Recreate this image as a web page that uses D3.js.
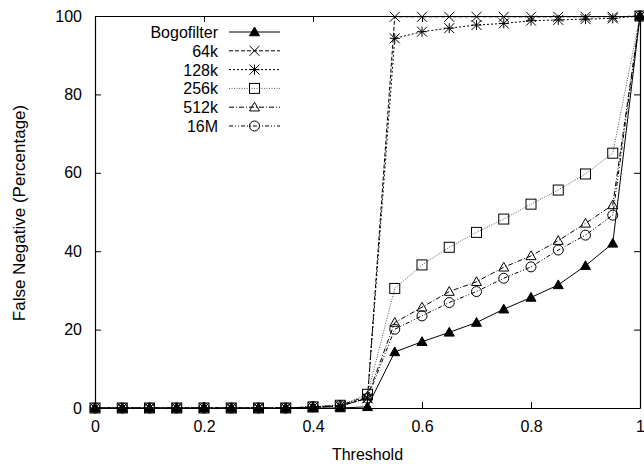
<!DOCTYPE html>
<html>
<head>
<meta charset="utf-8">
<script src="https://cdn.jsdelivr.net/npm/d3@7"></script>
<style>
  body { margin: 0; background: #fff; }
  text { font-family: "Liberation Sans", Arial, sans-serif; fill: #000; }
</style>
</head>
<body>
<div class="svgContainer"></div>
<script>
// thresholds on the x axis
const thresholds = [0, 0.05, 0.1, 0.15, 0.2, 0.25, 0.3, 0.35, 0.4, 0.45, 0.5,
                    0.55, 0.6, 0.65, 0.7, 0.75, 0.8, 0.85, 0.9, 0.95, 1];

// false negative percentages
const bogofilter = [0, 0, 0, 0, 0, 0, 0, 0, 0, 0, 0.3, 14.3, 16.9, 19.3, 21.8, 25.2, 28.2, 31.4, 36.3, 42.0, 100];
const s64k  = [0, 0, 0, 0, 0, 0, 0, 0, 0.2, 0.5, 2.5, 99.8, 99.8, 99.8, 99.8, 99.8, 99.8, 99.8, 99.8, 99.8, 100];
const s128k = [0, 0, 0, 0, 0, 0, 0, 0, 0.2, 0.5, 2.5, 94.3, 96.0, 96.9, 97.7, 98.1, 98.8, 99.0, 99.2, 99.4, 100];
const s256k = [0, 0, 0, 0, 0, 0, 0, 0, 0.3, 0.7, 3.5, 30.5, 36.5, 41.0, 44.8, 48.2, 52.0, 55.6, 59.7, 65.0, 100];
const s512k = [0, 0, 0, 0, 0, 0, 0, 0, 0.3, 0.7, 3.0, 21.8, 25.7, 29.7, 32.2, 35.9, 38.8, 42.7, 47.1, 51.8, 100];
const s16M  = [0, 0, 0, 0, 0, 0, 0, 0, 0.3, 0.6, 2.5, 20.1, 23.5, 26.9, 29.7, 33.1, 36.0, 40.3, 44.1, 49.2, 100];

const seriesNames = ['Bogofilter', '64k', '128k', '256k', '512k', '16M'];
const seriesValues = [bogofilter, s64k, s128k, s256k, s512k, s16M];

const xTicks = [0, 0.2, 0.4, 0.6, 0.8, 1];
const yTicks = [0, 20, 40, 60, 80, 100];

const WIDTH = 644;
const HEIGHT = 464;
const LEFT = 95, RIGHT = 640, TOP = 16, BOTTOM = 408;
const FONT = 16;

// line style and marker per series (gnuplot-ish)
const styles = [
    { dash: null,          stroke: '#000', marker: 'triFilled' },
    { dash: '4,2',         stroke: '#000', marker: 'x' },
    { dash: '2,2',         stroke: '#000', marker: 'star' },
    { dash: '1,1.5',       stroke: '#555', marker: 'square' },
    { dash: '5,2,1,2',     stroke: '#000', marker: 'triOpen' },
    { dash: '4,2,1,2,1,2', stroke: '#000', marker: 'circle' }
];

const svg = d3.select('.svgContainer')
    .append('svg')
    .attr('width', WIDTH)
    .attr('height', HEIGHT);

const x = d3.scaleLinear().domain([0, 1]).range([LEFT, RIGHT]);
const y = d3.scaleLinear().domain([0, 100]).range([BOTTOM, TOP]);

const fmt = d => String(+d.toFixed(1));

// axes with inward ticks on all four sides
function styleAxis(g) {
    g.selectAll('path.domain').attr('stroke', '#000').attr('stroke-width', 1.2);
    g.selectAll('.tick line').attr('stroke', '#000');
    g.selectAll('text').attr('font-size', FONT).attr('font-family', '"Liberation Sans", Arial, sans-serif');
}

svg.append('g')
    .attr('transform', `translate(0,${BOTTOM})`)
    .call(d3.axisBottom(x).tickValues(xTicks).tickFormat(fmt).tickSize(-6).tickSizeOuter(0).tickPadding(13))
    .call(styleAxis);

svg.append('g')
    .attr('transform', `translate(0,${TOP})`)
    .call(d3.axisTop(x).tickValues(xTicks).tickFormat('').tickSize(-6).tickSizeOuter(0))
    .call(styleAxis);

svg.append('g')
    .attr('transform', `translate(${LEFT},0)`)
    .call(d3.axisLeft(y).tickValues(yTicks).tickSize(-6).tickSizeOuter(0).tickPadding(13))
    .call(styleAxis);

svg.append('g')
    .attr('transform', `translate(${RIGHT},0)`)
    .call(d3.axisRight(y).tickValues(yTicks).tickFormat('').tickSize(-6).tickSizeOuter(0))
    .call(styleAxis);

// axis titles
svg.append('text')
    .attr('x', (LEFT + RIGHT) / 2)
    .attr('y', 460)
    .attr('text-anchor', 'middle')
    .attr('font-size', FONT)
    .text('Threshold');

svg.append('text')
    .attr('transform', `translate(25,213) rotate(-90)`)
    .attr('text-anchor', 'middle')
    .attr('font-size', 17)
    .text('False Negative (Percentage)');

// marker drawing
function drawMarker(g, type, cx, cy, stroke) {
    const r = 5;
    if (type === 'triFilled' || type === 'triOpen') {
        g.append('path')
            .attr('d', `M${cx},${cy - r}L${cx + r},${cy + r * 0.75}L${cx - r},${cy + r * 0.75}Z`)
            .attr('fill', type === 'triFilled' ? '#000' : 'none')
            .attr('stroke', '#000');
    } else if (type === 'x' || type === 'star') {
        let d = `M${cx - r},${cy - r}L${cx + r},${cy + r}M${cx - r},${cy + r}L${cx + r},${cy - r}`;
        if (type === 'star') d += `M${cx},${cy - r}L${cx},${cy + r}M${cx - r},${cy}L${cx + r},${cy}`;
        g.append('path').attr('d', d).attr('stroke', '#000').attr('fill', 'none');
    } else if (type === 'square') {
        g.append('rect')
            .attr('x', cx - r).attr('y', cy - r)
            .attr('width', 2 * r).attr('height', 2 * r)
            .attr('fill', 'none').attr('stroke', '#000');
    } else if (type === 'circle') {
        g.append('circle')
            .attr('cx', cx).attr('cy', cy).attr('r', r)
            .attr('fill', 'none').attr('stroke', '#000');
    }
}

const line = d3.line()
    .x((d, i) => x(thresholds[i]))
    .y(d => y(d));

seriesValues.forEach((vals, k) => {
    const st = styles[k];
    const g = svg.append('g').attr('class', 'series');
    g.append('path')
        .attr('d', line(vals))
        .attr('fill', 'none')
        .attr('stroke', st.stroke)
        .attr('stroke-width', 1)
        .attr('stroke-dasharray', st.dash);
    vals.forEach((v, i) => drawMarker(g, st.marker, x(thresholds[i]), y(v), st.stroke));
});

// legend
const LEGEND_TEXT_X = 218;
const LEGEND_Y0 = 32;
const LEGEND_STEP = 18.8;
const legend = svg.append('g').attr('id', 'legend');

seriesNames.forEach((name, k) => {
    const st = styles[k];
    const cy = LEGEND_Y0 + k * LEGEND_STEP;
    legend.append('text')
        .attr('x', LEGEND_TEXT_X)
        .attr('y', cy + 6)
        .attr('text-anchor', 'end')
        .attr('font-size', FONT)
        .text(name);
    legend.append('line')
        .attr('x1', 229).attr('x2', 280)
        .attr('y1', cy).attr('y2', cy)
        .attr('stroke', st.stroke)
        .attr('stroke-dasharray', st.dash);
    drawMarker(legend, st.marker, 254.5, cy, st.stroke);
});
</script>
</body>
</html>
